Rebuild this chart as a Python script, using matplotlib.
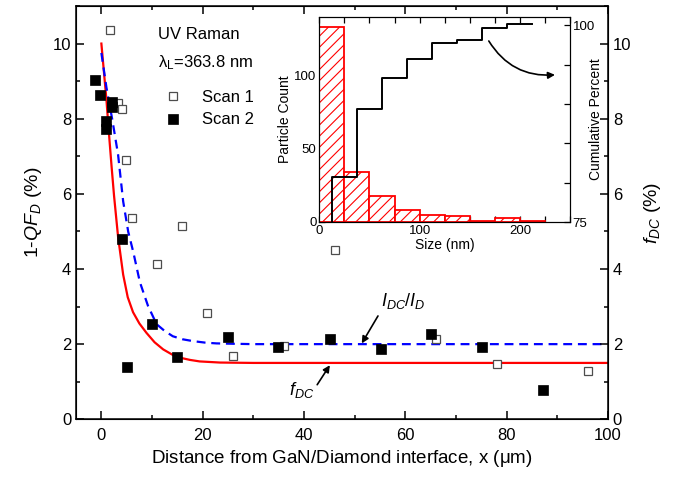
import matplotlib
matplotlib.use("Agg")
import matplotlib.pyplot as plt
from matplotlib.ticker import MultipleLocator, FixedLocator

plt.rcParams['font.family'] = ['Liberation Sans', 'DejaVu Sans']
plt.rcParams['mathtext.fontset'] = 'custom'
plt.rcParams['mathtext.rm'] = 'Liberation Sans'
plt.rcParams['mathtext.it'] = 'Liberation Sans:italic'
plt.rcParams['mathtext.bf'] = 'Liberation Sans:bold'
plt.rcParams['hatch.color'] = '#ff4040'
plt.rcParams['hatch.linewidth'] = 0.8

# ---------------- data ----------------
scan1_x = [1.8, 3.2, 4.0, 4.9, 6.0, 16.0, 11.0, 20.9, 26.0, 36.0, 46.1, 66.1, 78.0, 96.0]
scan1_y = [10.37, 8.42, 8.25, 6.90, 5.35, 5.14, 4.12, 2.83, 1.68, 1.94, 4.50, 2.15, 1.46, 1.28]

scan2_x = [-1.2, -0.2, 2.0, 2.0, 1.0, 1.0, 4.0, 5.0, 10.0, 14.9, 25.0, 34.9, 45.1, 55.1, 65.1, 75.1, 87.1]
scan2_y = [9.04, 8.62, 8.45, 8.30, 7.95, 7.72, 4.81, 1.39, 2.53, 1.66, 2.18, 1.93, 2.15, 1.87, 2.26, 1.93, 0.79]

fdc_x = [0, 0.5, 1.0, 1.5, 2.0, 2.5, 3.3, 4.3, 5.2, 6.25, 7.5, 8.9, 10.5, 12.2, 14.0, 15.5, 17.5, 19.4, 23.4, 30, 100]
fdc_y = [10.0, 9.25, 8.5, 7.6, 6.75, 5.95, 4.85, 3.85, 3.25, 2.85, 2.55, 2.3, 2.05, 1.86, 1.72, 1.64, 1.58, 1.54, 1.51, 1.5, 1.5]

ratio_x = [0, 1.0, 2.2, 3.3, 4.3, 5.3, 6.3, 7.6, 9.2, 10.9, 12.5, 14.1, 16.0, 18.1, 20.5, 22.7, 26, 30, 98.8]
ratio_y = [9.75, 8.83, 7.94, 7.04, 5.8, 4.99, 4.45, 3.65, 3.02, 2.53, 2.35, 2.21, 2.13, 2.08, 2.04, 2.02, 2.01, 2.0, 2.0]

bin_edges = [0, 25, 50, 75, 100, 125, 150, 175, 200, 225]
counts = [133, 34, 18, 8, 5, 4, 1, 3, 1]

cum_x = [12.5, 37.5, 62.5, 87.5, 112.5, 137.5, 162.5, 187.5, 212.5]
cum_y = [80.75, 89.4, 93.3, 95.7, 97.7, 98.1, 99.6, 100.1, 100.1]

# ---------------- figure ----------------
fig = plt.figure(figsize=(6.79, 4.80), dpi=100)
ax = fig.add_axes([0.112, 0.1265, 0.7834, 0.861])

ax.plot(fdc_x, fdc_y, color='#ff0000', lw=1.6, zorder=2)
ax.plot(ratio_x, ratio_y, color='#0000ff', lw=1.6, dashes=(4, 2.6), zorder=2)
ax.plot(scan1_x, scan1_y, ls='none', marker='s', ms=6, mfc='white', mec='#4d4d4d', mew=0.9,
        label='Scan 1', zorder=3)
ax.plot(scan2_x, scan2_y, ls='none', marker='s', ms=6.5, mfc='black', mec='black', mew=0.5,
        label='Scan 2', zorder=4)

ax.set_xlim(-5, 100)
ax.set_ylim(0, 11)
ax.xaxis.set_major_locator(MultipleLocator(20))
ax.xaxis.set_minor_locator(MultipleLocator(10))
ax.yaxis.set_major_locator(MultipleLocator(2))
ax.yaxis.set_minor_locator(MultipleLocator(1))
ax.tick_params(which='both', direction='in', top=True, right=False, labelsize=12, width=1.1)
ax.tick_params(which='major', length=5.5)
ax.tick_params(which='minor', length=3)
ax.tick_params(axis='x', pad=6)
for s in ax.spines.values():
    s.set_linewidth(1.1)

ax2 = ax.twinx()
ax2.set_ylim(0, 11)
ax2.yaxis.set_major_locator(MultipleLocator(2))
ax2.yaxis.set_minor_locator(MultipleLocator(1))
ax2.tick_params(which='both', direction='in', labelsize=12, width=1.1)
ax2.tick_params(which='major', length=5.5)
ax2.tick_params(which='minor', length=3)
ax2.set_ylabel(r'$f_{DC}$ (%)', fontsize=14, labelpad=8)

ax.set_xlabel(r'Distance from GaN/Diamond interface, x ($\mathrm{\mu}$m)', fontsize=13.5, labelpad=4)
ax.set_ylabel(r'$1$-$QF_D$ (%)', fontsize=14, labelpad=6)

ax.text(0.155, 0.95, 'UV Raman', transform=ax.transAxes, fontsize=12, va='top', ha='left')
ax.text(0.155, 0.885, r'$\mathrm{\lambda_L}$=363.8 nm', transform=ax.transAxes, fontsize=12,
        va='top', ha='left')
ax.legend(loc='upper left', bbox_to_anchor=(0.145, 0.825), frameon=False, fontsize=12,
          handlelength=1.0, handletextpad=1.2, labelspacing=0.45, borderpad=0.2, markerscale=1.0)

ax.text(59.5, 3.15, r'$I_{DC}/I_D$', fontsize=13, ha='center', va='center')
ax.annotate('', xy=(51.4, 2.02), xytext=(54.6, 2.75),
            arrowprops=dict(arrowstyle='-|>', color='black', lw=1.2, mutation_scale=10,
                            shrinkA=0, shrinkB=0))
ax.text(39.5, 0.78, r'$f_{DC}$', fontsize=13, ha='center', va='center')
ax.annotate('', xy=(45.1, 1.44), xytext=(42.6, 0.92),
            arrowprops=dict(arrowstyle='-|>', color='black', lw=1.2, mutation_scale=10,
                            shrinkA=0, shrinkB=0))

# ---------------- inset ----------------
ins = fig.add_axes([0.4703, 0.5375, 0.3692, 0.4271])
ins.hist(bin_edges[:-1], bins=bin_edges, weights=counts, facecolor='white', edgecolor='#ff0000',
         hatch='///', lw=1.3, zorder=2)
ins.set_xlim(0, 250)
ins.set_ylim(0, 140)
ins.xaxis.set_major_locator(MultipleLocator(100))
ins.xaxis.set_minor_locator(MultipleLocator(25))
ins.yaxis.set_major_locator(MultipleLocator(50))
ins.yaxis.set_minor_locator(MultipleLocator(25))
ins.tick_params(which='both', direction='in', top=True, labelsize=9.5, width=0.9, pad=2)
ins.tick_params(which='major', length=4)
ins.tick_params(which='minor', length=4)
ins.set_xlabel('Size (nm)', fontsize=10, labelpad=1)
ins.set_ylabel('Particle Count', fontsize=10, labelpad=2)

ins2 = ins.twinx()
sx = [cum_x[0]]
sy = [75]
for i in range(len(cum_x)):
    sx.append(cum_x[i]); sy.append(cum_y[i])
    if i + 1 < len(cum_x):
        sx.append(cum_x[i + 1]); sy.append(cum_y[i])
ins2.plot(sx, sy, color='black', lw=1.4)
ins2.set_ylim(75, 101.05)
ins2.yaxis.set_major_locator(FixedLocator([75, 100]))
ins2.yaxis.set_minor_locator(FixedLocator([80, 85, 90, 95]))
ins2.tick_params(which='both', direction='in', labelsize=9.5, width=0.9, length=4, pad=2)
ins2.set_ylabel('Cumulative Percent', fontsize=10)
ins2.yaxis.set_label_coords(1.076, 0.5)
ins2.annotate('', xy=(235, 93.7), xytext=(169, 98.0),
              arrowprops=dict(arrowstyle='-|>', color='black', lw=1.2, mutation_scale=10,
                              connectionstyle='arc3,rad=0.3', shrinkA=0, shrinkB=0))

fig.savefig('out.png', dpi=100)
